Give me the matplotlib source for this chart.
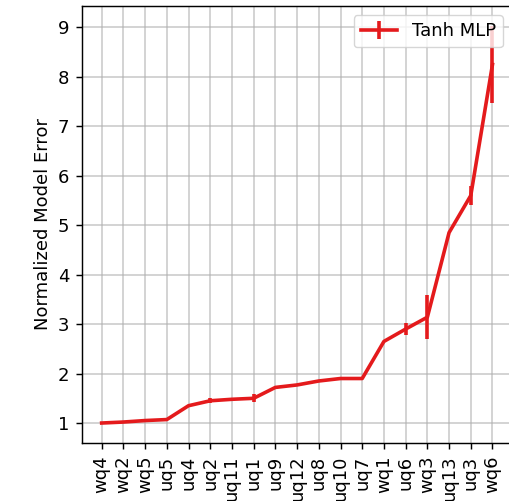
import matplotlib
matplotlib.use("Agg")
import matplotlib.pyplot as plt

categories = ["wq4", "wq2", "wq5", "uq5", "uq4", "uq2", "uq11", "uq1", "uq9",
              "uq12", "uq8", "uq10", "uq7", "wq1", "uq6", "wq3", "uq13", "uq3", "wq6"]
values = [1.0, 1.02, 1.05, 1.07, 1.35, 1.45, 1.48, 1.5, 1.72,
          1.77, 1.85, 1.9, 1.9, 2.65, 2.9, 3.14, 4.85, 5.6, 8.25]
errors = [0.0, 0.0, 0.0, 0.0, 0.0, 0.05, 0.0, 0.08, 0.0,
          0.0, 0.0, 0.0, 0.0, 0.0, 0.12, 0.45, 0.0, 0.2, 0.78]
series_label = "Tanh MLP"

s = 1.3
plt.rcParams.update({
    "font.size": 10 * s,
    "xtick.major.size": 3.5 * s,
    "ytick.major.size": 3.5 * s,
    "xtick.major.width": 0.8 * s,
    "ytick.major.width": 0.8 * s,
    "axes.linewidth": 0.8 * s,
    "xtick.major.pad": 3.5 * s,
    "ytick.major.pad": 3.5 * s,
})

fig = plt.figure(figsize=(5.10, 5.01), dpi=100)
ax = fig.add_axes([0.161, 0.116, 0.843, 0.872])
x = list(range(len(categories)))
ax.errorbar(x, values, yerr=errors, color="#e41a1c", lw=2 * s, elinewidth=2 * s,
            capsize=0, label=series_label)
ax.set_xticks(x)
ax.set_xticklabels(categories, rotation=90)
ax.set_ylabel("Normalized Model Error")
ax.grid(True, color="#b0b0b0", alpha=0.6, lw=1 * s)
ax.set_axisbelow(True)
ax.legend(loc="upper right")
fig.savefig("out.png", dpi=100)
